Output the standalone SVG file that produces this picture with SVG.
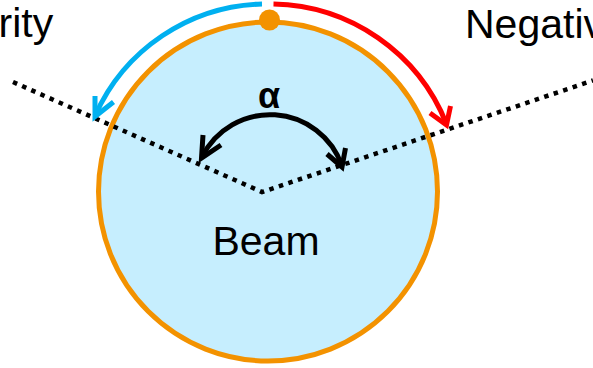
<svg xmlns="http://www.w3.org/2000/svg" width="593" height="368" viewBox="0 0 593 368">
<style>
.lbl{font-family:"Liberation Sans",Arial,sans-serif;font-size:41px;fill:#000}
.dots{fill:none;stroke:#000;stroke-width:4.5;stroke-dasharray:4.5 5.5}
.arr{fill:none;stroke-width:5;stroke-linecap:butt;stroke-linejoin:miter}
</style>
<rect width="593" height="368" fill="#fff"/>
<g id="beam">
<circle cx="268" cy="191.5" r="169.5" fill="#C6EEFE" stroke="#F39200" stroke-width="5"/>
<text class="lbl" x="266" y="255" text-anchor="middle">Beam</text>
</g>
<g id="origin">
<circle cx="269.5" cy="20" r="10.5" fill="#F39200"/>
</g>
<g id="labels">
<text class="lbl" x="-1.5" y="37">rity</text>
<text class="lbl" x="465" y="38">Negativ</text>
<text x="269" y="108" text-anchor="middle" style="font-family:'Liberation Sans',Arial,sans-serif;font-size:36px;font-weight:bold">α</text>
</g>
<g id="connectors">
<path class="dots" d="M13,82 L262,192 L593,80.5"/>
<path class="arr" stroke="#00B0F0" d="M262,4 A188,188 0 0 0 95,116"/>
<path class="arr" stroke="#00B0F0" d="M95,96 L95,116.5 L113.5,102"/>
<path class="arr" stroke="#FF0000" d="M273.5,4 A190,190 0 0 1 446.5,124"/>
<path class="arr" stroke="#FF0000" d="M430,113 L446.5,125 L450.5,106"/>
<path class="arr" stroke="#000" d="M202,157 A76,76 0 0 1 342,166"/>
<path class="arr" stroke="#000" d="M203,135 L201.5,158 L221,145"/>
<path class="arr" stroke="#000" d="M327,154 L342,167 L345.5,148"/>
</g>
</svg>
